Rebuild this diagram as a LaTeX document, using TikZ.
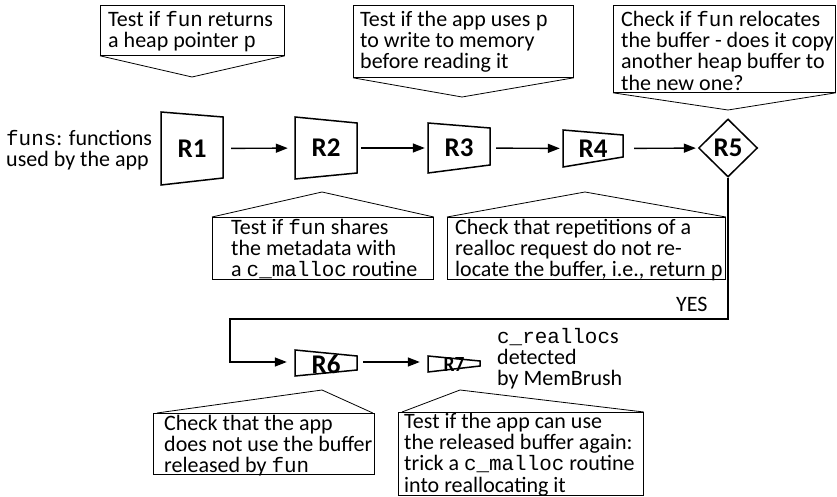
\documentclass[tikz,border=0pt]{standalone}
\usepackage{fontspec}
\setmainfont{Carlito}
\setmonofont{Liberation Mono}[Scale=0.95]
\usetikzlibrary{arrows.meta,shapes.geometric}
\newcommand\mystrut{\rule{0pt}{18pt}}
\begin{document}
\begin{tikzpicture}[x=1pt,y=-1pt,
  txt/.style={inner sep=0pt, anchor=north west, align=left, font=\fontsize{22}{21.3}\selectfont},
  box/.style={draw, line width=0.8pt, inner sep=0pt, anchor=north west},
  ptr/.style={draw, line width=0.8pt},
  shp/.style={draw, line width=1.5pt, line join=miter},
  hold/.style={inner sep=0pt, font=\fontsize{27}{27}\selectfont\bfseries},
  arr/.style={line width=1.4pt, -{Triangle[length=12pt,width=9pt]}}]
\useasboundingbox (0,0) rectangle (837,497);

% ---------- input text ----------
\node[txt] (funs) at (6,145-18) {\mystrut\texttt{funs}: functions\\used by the app};

% ---------- R nodes (invisible holders) ----------
\node[hold, minimum width=62pt, minimum height=73pt] (r1) at (192,148.5) {R1};
\node[hold, minimum width=62pt, minimum height=62pt] (r2) at (326,148) {R2};
\node[hold, minimum width=62pt, minimum height=50pt] (r3) at (459,148) {R3};
\node[hold, minimum width=60pt, minimum height=37pt] (r4) at (593,148.5) {R4};
\node[hold, draw, diamond, line width=1.5pt, minimum width=59pt, minimum height=58pt, aspect=1] (r5) at (728,148) {R5};
\node[hold, minimum width=62pt, minimum height=26pt] (r6) at (326,364) {R6};
\node[hold, minimum width=52pt, minimum height=16pt] (r7) at (454,364) {\scalebox{0.72}[0.8]{R7}};

% trapezoid outlines
\draw[shp] (161,112) -- (223,117) -- (223,178) -- (161,185) -- cycle;
\draw[shp] (295,117) -- (357,123) -- (357,173) -- (295,179) -- cycle;
\draw[shp] (428,123) -- (490,128) -- (490,165) -- (428,173) -- cycle;
\draw[shp] (563,130) -- (623,135) -- (623,157) -- (563,167) -- cycle;
\draw[shp] (295,350) -- (357,356) -- (357,370) -- (295,376) -- cycle;
\draw[shp] (428,356) -- (480,361) -- (480,366) -- (428,372) -- cycle;

% ---------- connectors ----------
\draw[arr, shorten <=8pt, shorten >=7pt] (r1) -- (r2);
\draw[arr, shorten <=4pt, shorten >=3pt] (r2) -- (r3);
\draw[arr, shorten <=6pt, shorten >=3pt] (r3) -- (r4);
\draw[arr, shorten <=11pt, shorten >=2pt] (r4) -- (r5);
\coordinate (k1) at (728,319);
\coordinate (k2) at (230,319);
\coordinate (k3) at (230,362);
\draw[arr, shorten >=8pt] (r5.south) -- (k1) -- (k2) -- (k3) -- (r6.west |- k3);
\draw[arr, shorten <=6pt, shorten >=8pt] (r6.east |- k3) -- (r7.west |- k3);
\node[txt] (yes) at (676,311-18) {\mystrut YES};

% ---------- output text ----------
\node[txt] (out) at (497,343-18) {\mystrut\texttt{c\_realloc}s\\detected\\by MemBrush};

% ---------- callouts ----------
% C1 (R1)
\node[box, minimum width=184pt, minimum height=50pt] (c1) at (100,5) {};
\coordinate (a1) at (192,77);
\draw[ptr] (c1.south west) -- (a1) -- (c1.south east);
\node[txt] (t1) at (108,26-18) {\mystrut Test if \texttt{fun} returns\\a heap pointer \texttt{p}};
% C2 (R3)
\node[box, minimum width=220pt, minimum height=72pt] (c2) at (353,5) {};
\coordinate (a2) at (462,97);
\draw[ptr] (c2.south west) -- (a2) -- (c2.south east);
\node[txt] (t2) at (360,26-18) {\mystrut Test if the app uses \texttt{p}\\to write to memory\\before reading it};
% C3 (R5)
\node[box, minimum width=222pt, minimum height=87pt] (c3) at (613,5) {};
\coordinate (a3) at (728,110);
\draw[ptr] (c3.south west) -- (a3) -- (c3.south east);
\node[txt] (t3) at (621,26-18) {\mystrut Check if \texttt{fun} relocates\\the buffer - does it copy\\another heap buffer to\\the new one?};
% C4 (R2)
\node[box, minimum width=221pt, minimum height=62pt] (c4) at (212,217) {};
\coordinate (a4) at (322,192);
\draw[ptr] (c4.north west) -- (a4) -- (c4.north east);
\node[txt] (t4) at (231,234-18) {\mystrut Test if \texttt{fun} shares\\the metadata with\\a \texttt{c\_malloc} routine};
% C5 (R4)
\node[box, minimum width=278pt, minimum height=62pt] (c5) at (447,217) {};
\coordinate (a5) at (585,192);
\draw[ptr] (c5.north west) -- (a5) -- (c5.north east);
\node[txt] (t5) at (455,234-18) {\mystrut Check that repetitions of a\\realloc request do not re-\\locate the buffer, i.e., return \texttt{p}};
% C6 (R6)
\node[box, minimum width=221pt, minimum height=61pt] (c6) at (153,413) {};
\coordinate (a6) at (322,390);
\draw[ptr] ([xshift=4pt]c6.north west) -- (a6) -- ([xshift=-2pt]c6.north east);
\node[txt] (t6) at (164,430-18) {\mystrut Check that the app\\does not use the buffer\\released by \texttt{fun}};
% C7 (R7)
\node[box, minimum width=245pt, minimum height=83pt] (c7) at (398,412) {};
\coordinate (a7) at (460,390);
\draw[ptr] ([xshift=4pt]c7.north west) -- (a7) -- (c7.north east);
\node[txt] (t7) at (404,428-18) {\mystrut Test if the app can use\\the released buffer again:\\trick a \texttt{c\_malloc} routine\\into reallocating it};
\end{tikzpicture}
\end{document}
